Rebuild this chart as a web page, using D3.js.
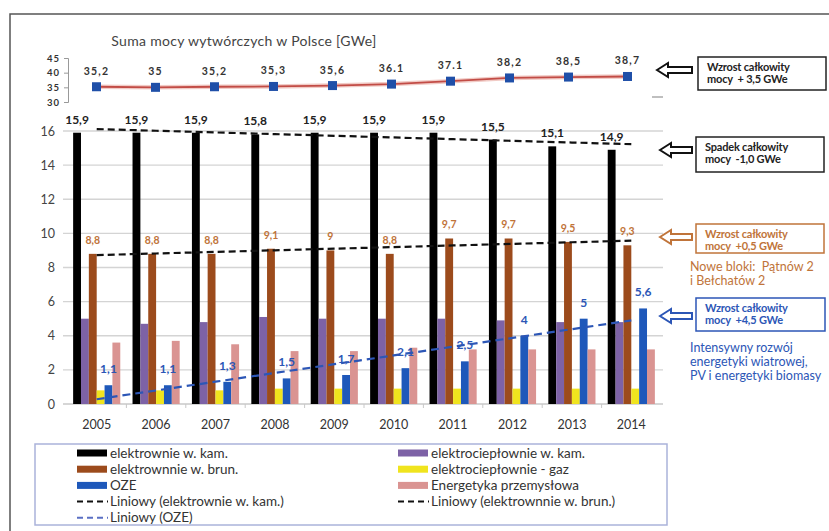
<!DOCTYPE html>
<html>
<head>
<meta charset="utf-8">
<script src="https://cdn.jsdelivr.net/npm/d3@7"></script>
<style>
  html, body { margin: 0; padding: 0; background: #fff; }
  svg { display: block; font-family: Lato, "Open Sans", sans-serif; }
</style>
</head>
<body>
<svg id="chart" width="829" height="531"></svg>
<script>
// ---- data ----
const years = ["2005","2006","2007","2008","2009","2010","2011","2012","2013","2014"];

// total generating capacity in Poland [GWe]
const totalCapacity = [35.2, 35, 35.2, 35.3, 35.6, 36.1, 37.1, 38.2, 38.5, 38.7];
const totalLabels = ["35,2","35","35,2","35,3","35,6","36.1","37.1","38,2","38,5","38,7"];
const topTicks = [30, 35, 40, 45];

// capacity by plant type [GWe]
const hardCoalPlants = [15.9, 15.9, 15.9, 15.8, 15.9, 15.9, 15.9, 15.5, 15.1, 14.9];
const hardCoalCHP = [5.0, 4.7, 4.8, 5.1, 5.0, 5.0, 5.0, 4.9, 4.8, 4.8];
const lignitePlants = [8.8, 8.8, 8.8, 9.1, 9.0, 8.8, 9.7, 9.7, 9.5, 9.3];
const gasCHP = [0.8, 0.8, 0.8, 0.9, 0.9, 0.9, 0.9, 0.9, 0.9, 0.9];
const renewables = [1.1, 1.1, 1.3, 1.5, 1.7, 2.1, 2.5, 4.0, 5.0, 5.6];
const industrial = [3.6, 3.7, 3.5, 3.1, 3.1, 3.3, 3.2, 3.2, 3.2, 3.2];
const yTicks = [0, 2, 4, 6, 8, 10, 12, 14, 16];

const series = [
  { key: "kam",   name: "elektrownie w. kam.",        values: hardCoalPlants, color: "#000000" },
  { key: "ecKam", name: "elektrociepłownie w. kam.",  values: hardCoalCHP,    color: "#7d62a6" },
  { key: "brun",  name: "elektrownnie w. brun.",      values: lignitePlants,  color: "#9c4b1c" },
  { key: "gaz",   name: "elektrociepłownie - gaz",    values: gasCHP,         color: "#f0e41e" },
  { key: "oze",   name: "OZE",                        values: renewables,     color: "#1e58ba" },
  { key: "przem", name: "Energetyka przemysłowa",     values: industrial,     color: "#da9492" }
];

const fmt = v => String(v).replace(".", ",");

// ---- setup ----
const svg = d3.select("#chart");
const BROWN_TXT = "#c0743a";
const BLUE_TXT = "#2c56b6";

// outer frame
svg.append("path")
  .attr("d", "M10,531 V14 H829")
  .attr("fill", "none").attr("stroke", "#555").attr("stroke-width", 1.5);

// ---- top panel: total capacity ----
svg.append("text")
  .attr("x", 244).attr("y", 46).attr("text-anchor", "middle")
  .attr("font-size", 14).attr("letter-spacing", 0.3).attr("fill", "#444")
  .text("Suma mocy wytwórczych w Polsce [GWe]");

const xTop = d3.scalePoint().domain(years).range([96.5, 627.5]);
const yTop = d3.scaleLinear().domain([30, 45]).range([102, 58]);

const topAxis = svg.append("g").attr("transform", "translate(68,0)")
  .call(d3.axisLeft(yTop).tickValues(topTicks).tickSize(4).tickPadding(4));
topAxis.select(".domain").attr("stroke", "#999");
topAxis.selectAll(".tick line").attr("stroke", "#999");
topAxis.selectAll("text").attr("font-size", 9.5).attr("font-weight", "bold")
  .attr("letter-spacing", 1).attr("fill", "#333").attr("font-family", "Lato, sans-serif");

const topLine = d3.line().x((d, i) => xTop(years[i])).y(d => yTop(d));
svg.append("path").datum(totalCapacity)
  .attr("d", topLine).attr("fill", "none")
  .attr("stroke", "#f1cbc6").attr("stroke-width", 4.5);
svg.append("path").datum(totalCapacity)
  .attr("d", topLine).attr("fill", "none")
  .attr("stroke", "#c24c46").attr("stroke-width", 1.8);

svg.append("g").selectAll("rect").data(totalCapacity).join("rect")
  .attr("x", (d, i) => xTop(years[i]) - 4.5)
  .attr("y", d => yTop(d) - 4.5)
  .attr("width", 9).attr("height", 9)
  .attr("fill", "#1f4fa8");

svg.append("g").selectAll("text").data(totalCapacity).join("text")
  .attr("x", (d, i) => xTop(years[i]))
  .attr("y", d => yTop(d) - 12)
  .attr("text-anchor", "middle")
  .attr("font-size", 10.5).attr("font-weight", "bold").attr("letter-spacing", 1.2)
  .attr("fill", "#333")
  .text((d, i) => totalLabels[i]);

svg.append("line").attr("x1", 652).attr("x2", 663).attr("y1", 97).attr("y2", 97)
  .attr("stroke", "#aaa").attr("stroke-width", 1.5);

// ---- main panel ----
const x0 = d3.scaleBand().domain(years).range([67, 661]).padding(0);
const x1 = d3.scaleBand().domain(series.map(s => s.key))
  .range([0, x0.bandwidth()]).paddingInner(0).paddingOuter(0.78);
const y = d3.scaleLinear().domain([0, 16]).range([404, 131]);

// grid
svg.append("g").selectAll("line").data(yTicks.filter(t => t > 0)).join("line")
  .attr("x1", 63).attr("x2", 663)
  .attr("y1", d => y(d)).attr("y2", d => y(d))
  .attr("stroke", "#d4d4d4").attr("stroke-width", 1.3);

const yAxis = svg.append("g").attr("transform", "translate(63,0)")
  .call(d3.axisLeft(y).tickValues(yTicks).tickSize(0).tickPadding(8));
yAxis.select(".domain").remove();
yAxis.selectAll("text").attr("font-size", 12.5).attr("fill", "#444")
  .attr("font-family", "Lato, sans-serif");

// x axis line + category separators
svg.append("line").attr("x1", 63).attr("x2", 663)
  .attr("y1", y(0)).attr("y2", y(0)).attr("stroke", "#c8c8c8").attr("stroke-width", 1.3);
svg.append("g").selectAll("line").data(years.slice(1)).join("line")
  .attr("x1", d => x0(d)).attr("x2", d => x0(d))
  .attr("y1", y(0)).attr("y2", y(0) + 4)
  .attr("stroke", "#c8c8c8");

svg.append("g").selectAll("text").data(years).join("text")
  .attr("x", d => x0(d) + x0.bandwidth() / 2)
  .attr("y", 429).attr("text-anchor", "middle")
  .attr("font-size", 12.5).attr("fill", "#333")
  .text(d => d);

// bars
const barG = svg.append("g");
series.forEach(s => {
  barG.append("g").selectAll("rect").data(s.values).join("rect")
    .attr("x", (d, i) => x0(years[i]) + x1(s.key))
    .attr("y", d => y(d))
    .attr("width", x1.bandwidth())
    .attr("height", d => y(0) - y(d))
    .attr("fill", s.color);
});

// linear trend lines (least squares over the category index)
function trend(values) {
  const mx = d3.mean(values, (d, i) => i);
  const my = d3.mean(values);
  let sxy = 0, sxx = 0;
  values.forEach((v, i) => { sxy += (i - mx) * (v - my); sxx += (i - mx) * (i - mx); });
  const b = sxy / sxx, a = my - b * mx;
  return values.map((v, i) => a + b * i);
}
const cx = i => x0(years[i]) + x0.bandwidth() / 2;
const trendLine = d3.line().x((d, i) => cx(i)).y(d => y(d));

[
  { values: hardCoalPlants, color: "#111", dash: "7,4" },
  { values: lignitePlants, color: "#111", dash: "7,4" },
  { values: renewables, color: "#2c56b6", dash: "8,5" }
].forEach(t => {
  svg.append("path").datum(trend(t.values))
    .attr("d", trendLine).attr("fill", "none")
    .attr("stroke", t.color).attr("stroke-width", 2.2)
    .attr("stroke-dasharray", t.dash);
});

// value labels
function valueLabels(values, key, color, size, offset) {
  svg.append("g").selectAll("text").data(values).join("text")
    .attr("x", (d, i) => x0(years[i]) + x1(key) + x1.bandwidth() / 2)
    .attr("y", d => y(d) - offset)
    .attr("text-anchor", "middle")
    .attr("font-size", size).attr("font-weight", "bold").attr("fill", color)
    .text(d => fmt(d));
}
valueLabels(hardCoalPlants, "kam", "#222", 12, 9);
valueLabels(lignitePlants, "brun", BROWN_TXT, 10.5, 10);
valueLabels(renewables, "oze", BLUE_TXT, 12, 12);

// ---- annotations ----
function hollowArrow(xTip, xEnd, yc, color) {
  const p = d3.path();
  p.moveTo(xTip, yc);
  p.lineTo(xTip + 11, yc - 7);
  p.lineTo(xTip + 11, yc - 3);
  p.lineTo(xEnd, yc - 3);
  p.lineTo(xEnd, yc + 3);
  p.lineTo(xTip + 11, yc + 3);
  p.lineTo(xTip + 11, yc + 7);
  p.closePath();
  svg.append("path").attr("d", p.toString())
    .attr("fill", "#fff").attr("stroke", color).attr("stroke-width", 2);
}
function noteBox(x, yTop, w, h, color, lines) {
  svg.append("rect").attr("x", x).attr("y", yTop).attr("width", w).attr("height", h)
    .attr("fill", "#fff").attr("stroke", color).attr("stroke-width", 1.5);
  const t = svg.append("text").attr("x", x + 9).attr("y", yTop + 14)
    .attr("font-size", 11).attr("font-weight", "bold").attr("letter-spacing", -0.2)
    .attr("fill", color);
  lines.forEach((l, i) => t.append("tspan").attr("x", x + 9).attr("dy", i ? 12 : 0)
    .attr("xml:space", "preserve").text(l));
}
function noteText(x, yTop, color, lines) {
  const t = svg.append("text").attr("x", x).attr("y", yTop)
    .attr("font-size", 12.5).attr("fill", color);
  lines.forEach((l, i) => t.append("tspan").attr("x", x).attr("dy", i ? 14 : 0)
    .attr("xml:space", "preserve").text(l));
}

hollowArrow(657, 692, 70, "#111");
noteBox(698, 57, 128, 33, "#222", ["Wzrost całkowity", "mocy  + 3,5 GWe"]);

hollowArrow(660, 692, 150, "#111");
noteBox(696, 137, 128, 35, "#222", ["Spadek całkowity", "mocy  -1,0 GWe"]);

hollowArrow(660, 692, 237, BROWN_TXT);
noteBox(696, 224, 128, 29, BROWN_TXT, ["Wzrost całkowity", "mocy  +0,5 GWe"]);
noteText(690, 271, BROWN_TXT, ["Nowe bloki:  Pątnów 2", "i Bełchatów 2"]);

hollowArrow(660, 692, 316, BLUE_TXT);
noteBox(696, 298, 129, 33, BLUE_TXT, ["Wzrost całkowity", "mocy  +4,5 GWe"]);
noteText(690, 352, BLUE_TXT, ["Intensywny rozwój", "energetyki wiatrowej,", "PV i energetyki biomasy"]);

// ---- legend ----
const legendItems = [
  { name: series[0].name, color: series[0].color, type: "bar" },
  { name: series[1].name, color: series[1].color, type: "bar" },
  { name: series[2].name, color: series[2].color, type: "bar" },
  { name: series[3].name, color: series[3].color, type: "bar" },
  { name: series[4].name, color: series[4].color, type: "bar" },
  { name: series[5].name, color: series[5].color, type: "bar" },
  { name: "Liniowy (elektrownie w. kam.)", color: "#111", type: "dash" },
  { name: "Liniowy (elektrownnie w. brun.)", color: "#111", type: "dash" },
  { name: "Liniowy (OZE)", color: "#5a6fc4", type: "dash" }
];

svg.append("rect").attr("x", 35).attr("y", 444).attr("width", 632).attr("height", 81)
  .attr("fill", "#fff").attr("stroke", "#aab3da").attr("stroke-width", 1.5);

const lg = svg.append("g").selectAll("g").data(legendItems).join("g")
  .attr("transform", (d, i) => `translate(${i % 2 ? 398 : 77},${453 + Math.floor(i / 2) * 16.2})`);
lg.filter(d => d.type === "bar").append("rect")
  .attr("x", 0).attr("y", -3.5).attr("width", 30).attr("height", 7).attr("fill", d => d.color);
lg.filter(d => d.type === "dash").append("line")
  .attr("x1", 0).attr("x2", 31).attr("y1", 0).attr("y2", 0)
  .attr("stroke", d => d.color).attr("stroke-width", 2).attr("stroke-dasharray", "6,4");
lg.append("text").attr("x", 33).attr("y", 4.5)
  .attr("font-size", 13.5).attr("fill", "#333").text(d => d.name);
</script>
</body>
</html>
